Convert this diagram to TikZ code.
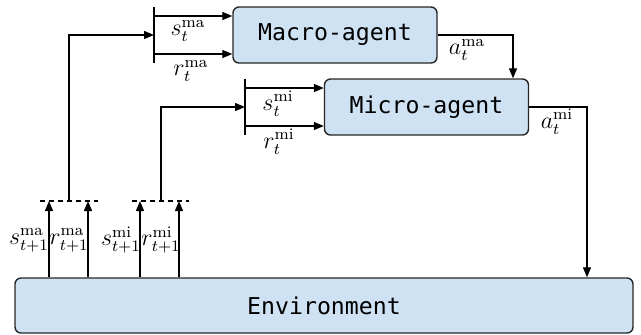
\documentclass[tikz,border=0pt]{standalone}
\usepackage{amsmath,amssymb}
\usepackage{fontspec}
\setmonofont{DejaVu Sans Mono}
\usepackage{xcolor}
\usepackage{tikz}
\usetikzlibrary{calc,arrows.meta}
\definecolor{boxblue}{HTML}{CFE2F3}
\tikzset{
  agentbox/.style={draw=black!85,fill=boxblue,rounded corners=3pt,line width=0.7pt,minimum width=102pt,minimum height=28pt,inner sep=0pt,font=\fontsize{11.6}{14}\selectfont\ttfamily},
  flow/.style={line width=0.65pt,-{Triangle[length=5pt,width=4pt]}},
  bar/.style={line width=0.65pt},
  joinline/.style={line width=0.65pt,dash pattern=on 2.5pt off 2pt},
  lab/.style={inner sep=0pt,font=\fontsize{11.5}{13}\selectfont}
}

\begin{document}
\begin{tikzpicture}[x=0.5pt,y=-0.5pt]
  \useasboundingbox (0,0) rectangle (641,334);
  \node[agentbox] (macro) at (335,35) {Macro-agent};
  \node[agentbox] (micro) at (426.5,107) {Micro-agent};
  \node[agentbox,minimum width=309pt,minimum height=27.5pt] (env) at (324,305.5) {Environment};
  % input bars
  \coordinate (barmatop) at (154,7);
  \coordinate (barmabot) at (154,63);
  \coordinate (barmitop) at (245,79);
  \coordinate (barmibot) at (245,135);
  \draw[bar] (barmatop) -- (barmabot);
  \draw[bar] (barmitop) -- (barmibot);
  \coordinate (sma) at (154,16);
  \coordinate (rma) at (154,54);
  \coordinate (smi) at (245,88);
  \coordinate (rmi) at (245,126);
  \draw[flow] (sma) -- (sma -| macro.west);
  \draw[flow] (rma) -- (rma -| macro.west);
  \draw[flow] (smi) -- (smi -| micro.west);
  \draw[flow] (rmi) -- (rmi -| micro.west);
  \node[lab] (lsma) at (188,31) {$s_t^{\mathrm{ma}}$};
  \node[lab] (lrma) at (191,71) {$r_t^{\mathrm{ma}}$};
  \node[lab] (lsmi) at (278,104) {$s_t^{\mathrm{mi}}$};
  \node[lab] (lrmi) at (279,142) {$r_t^{\mathrm{mi}}$};
  % actions
  \coordinate (ama) at (513,35);
  \coordinate (ami) at (587,107);
  \draw[flow] (macro.east) -- (ama) -- (ama |- micro.north);
  \draw[flow] (micro.east) -- (ami) -- (ami |- env.north);
  \node[lab] (lama) at (467,50) {$a_t^{\mathrm{ma}}$};
  \node[lab] (lami) at (557,122) {$a_t^{\mathrm{mi}}$};
  % observations back to the agents
  \coordinate (obsma) at (49,201);
  \coordinate (rewma) at (88,201);
  \coordinate (obsmi) at (140,201);
  \coordinate (rewmi) at (179,201);
  \draw[flow] (obsma |- env.north) -- (obsma);
  \draw[flow] (rewma |- env.north) -- (rewma);
  \draw[flow] (obsmi |- env.north) -- (obsmi);
  \draw[flow] (rewmi |- env.north) -- (rewmi);
  \draw[joinline] (40,201) -- (98,201);
  \draw[joinline] (132,201) -- (189,201);
  \coordinate (fbma) at (69,201);
  \coordinate (fbmi) at (161,201);
  \draw[flow] (fbma) |- (154,35);
  \draw[flow] (fbmi) |- (245,107);
  \node[lab] (lsma1) at (29,240) {$s_{t+1}^{\mathrm{ma}}$};
  \node[lab] (lrma1) at (69,240) {$r_{t+1}^{\mathrm{ma}}$};
  \node[lab] (lsmi1) at (121,240) {$s_{t+1}^{\mathrm{mi}}$};
  \node[lab] (lrmi1) at (161,240) {$r_{t+1}^{\mathrm{mi}}$};
\end{tikzpicture}
\end{document}
